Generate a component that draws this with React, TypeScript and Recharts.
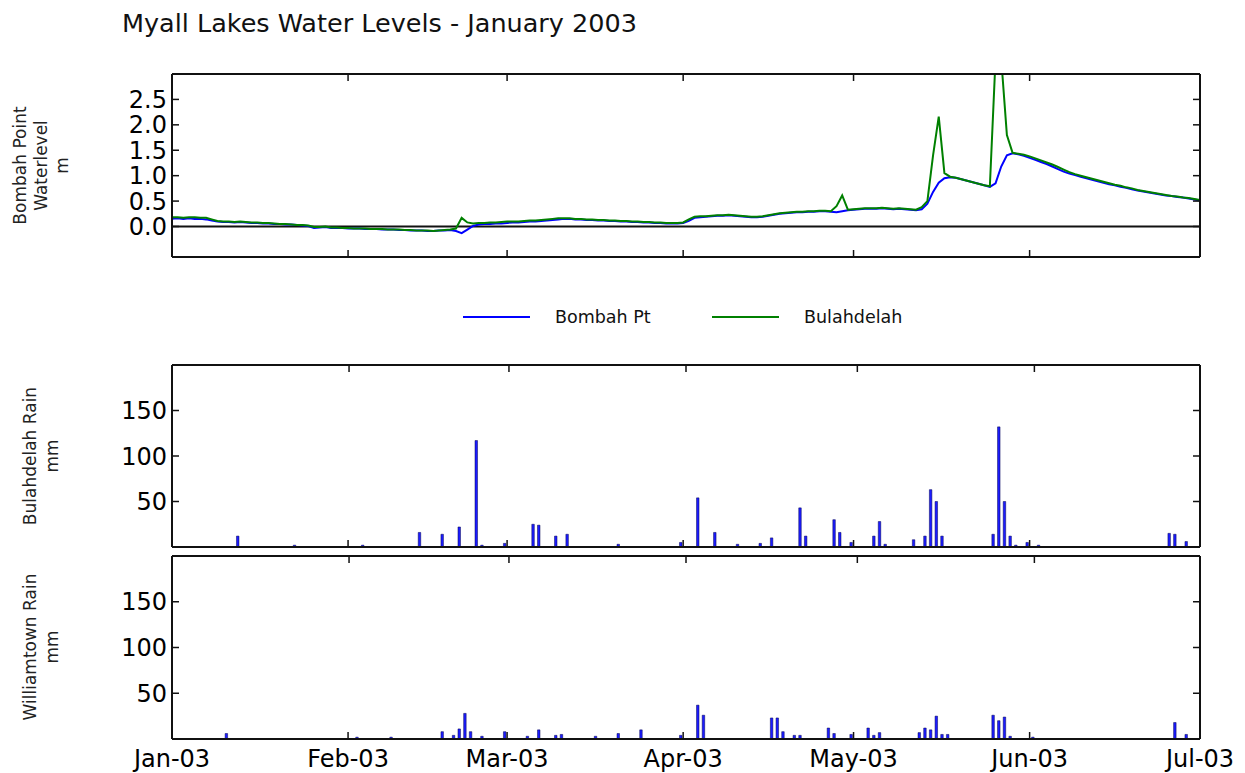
import { LineChart, Line, BarChart, Bar, XAxis, YAxis, ReferenceLine } from "recharts";

// x axis is "days since 1 Jan 2003"
const monthStarts = [0, 31, 59, 90, 120, 151, 181];
const monthLabels = ["Jan-03", "Feb-03", "Mar-03", "Apr-03", "May-03", "Jun-03", "Jul-03"];
const levelTicks = [0, 0.5, 1, 1.5, 2, 2.5];
const rainTicks = [50, 100, 150];

const bombahName = "Bombah Pt";
const bulahName = "Bulahdelah";

// daily water level (m), 1 Jan .. 1 Jul
const bombahLevel = [
  0.15, 0.16, 0.15, 0.16, 0.15, 0.15, 0.14, 0.12, 0.1, 0.09,
  0.09, 0.08, 0.09, 0.08, 0.07, 0.07, 0.06, 0.06, 0.05, 0.05,
  0.04, 0.04, 0.03, 0.02, 0.01, -0.03, -0.02, -0.01, -0.03, -0.03,
  -0.03, -0.04, -0.04, -0.04, -0.05, -0.05, -0.05, -0.06, -0.06, -0.06,
  -0.07, -0.07, -0.08, -0.08, -0.08, -0.09, -0.09, -0.08, -0.08, -0.07,
  -0.09, -0.13, -0.06, 0.01, 0.04, 0.05, 0.05, 0.06, 0.06, 0.07,
  0.08, 0.08, 0.09, 0.1, 0.1, 0.11, 0.12, 0.13, 0.14, 0.15,
  0.15, 0.14, 0.14, 0.13, 0.13, 0.12, 0.12, 0.11, 0.11, 0.1,
  0.1, 0.09, 0.09, 0.08, 0.08, 0.07, 0.07, 0.06, 0.06, 0.06,
  0.07, 0.11, 0.17, 0.18, 0.19, 0.2, 0.21, 0.21, 0.22, 0.21,
  0.2, 0.19, 0.18, 0.18, 0.19, 0.21, 0.23, 0.25, 0.26, 0.27,
  0.28, 0.28, 0.29, 0.29, 0.3, 0.3, 0.29, 0.28, 0.3, 0.32,
  0.33, 0.34, 0.35, 0.35, 0.35, 0.36, 0.35, 0.34, 0.35, 0.34,
  0.33, 0.32, 0.34, 0.45, 0.68, 0.86, 0.95, 0.97, 0.96, 0.93,
  0.9, 0.87, 0.84, 0.81, 0.78, 0.85, 1.18, 1.4, 1.44, 1.42,
  1.39, 1.35, 1.31, 1.27, 1.23, 1.18, 1.13, 1.08, 1.04, 1.01,
  0.98, 0.95, 0.92, 0.89, 0.86, 0.83, 0.81, 0.78, 0.76, 0.73,
  0.71, 0.69, 0.67, 0.65, 0.63, 0.61, 0.6, 0.58, 0.57, 0.55,
  0.53, 0.51,
];

const bulahLevel = [
  0.18, 0.18, 0.17, 0.18, 0.18, 0.17, 0.17, 0.14, 0.11, 0.1,
  0.1, 0.09, 0.1, 0.09, 0.08, 0.08, 0.07, 0.07, 0.06, 0.05,
  0.05, 0.04, 0.03, 0.03, 0.02, -0.01, -0.01, 0.0, -0.02, -0.02,
  -0.03, -0.03, -0.04, -0.04, -0.04, -0.05, -0.05, -0.05, -0.06, -0.06,
  -0.06, -0.07, -0.07, -0.08, -0.08, -0.08, -0.09, -0.08, -0.07, -0.06,
  -0.04, 0.17, 0.08, 0.06, 0.07, 0.07, 0.08, 0.08, 0.09, 0.1,
  0.1, 0.1, 0.11, 0.12, 0.12, 0.13, 0.14, 0.15, 0.16, 0.16,
  0.16, 0.15, 0.15, 0.14, 0.14, 0.13, 0.13, 0.12, 0.12, 0.11,
  0.11, 0.1, 0.1, 0.09, 0.09, 0.08, 0.08, 0.07, 0.07, 0.07,
  0.08, 0.14, 0.19, 0.2, 0.2, 0.21, 0.22, 0.22, 0.23, 0.22,
  0.21, 0.2, 0.19, 0.19, 0.2, 0.22, 0.24, 0.26, 0.27, 0.28,
  0.29, 0.29, 0.3, 0.3, 0.31, 0.31, 0.3, 0.4, 0.61, 0.33,
  0.34, 0.35, 0.36, 0.36, 0.36, 0.37, 0.36, 0.35, 0.36, 0.35,
  0.34, 0.33, 0.38, 0.5, 1.4, 2.16, 1.05, 0.98, 0.96, 0.93,
  0.9, 0.87, 0.84, 0.81, 0.79, 3.3, 3.3, 1.8, 1.45, 1.43,
  1.41, 1.38, 1.34, 1.3, 1.26, 1.22, 1.17, 1.12, 1.07, 1.03,
  1.0, 0.97, 0.94, 0.91, 0.88, 0.85, 0.82, 0.8, 0.77, 0.75,
  0.72, 0.7, 0.68, 0.66, 0.64, 0.62, 0.6, 0.59, 0.57, 0.56,
  0.54, 0.52,
];

// daily rainfall (mm), only the wet days
const bulahRainDays = [11, 21, 33, 43, 47, 50, 53, 54, 58, 63, 64, 67, 69, 78, 89, 92, 95, 99, 103, 105, 110, 111, 116, 117, 119, 123, 124, 125, 130, 132, 133, 134, 135, 144, 145, 146, 147, 148, 150, 152, 175, 176, 178];
const bulahRainMm = [12, 2, 2, 16, 14, 22, 117, 2, 4, 25, 24, 12, 14, 3, 5, 54, 16, 3, 4, 10, 43, 12, 30, 16, 5, 12, 28, 3, 8, 12, 63, 50, 12, 14, 132, 50, 12, 2, 5, 2, 15, 14, 6];

const williamRainDays = [9, 32, 38, 47, 49, 50, 51, 52, 54, 58, 62, 64, 67, 68, 74, 78, 82, 89, 92, 93, 105, 106, 107, 109, 110, 115, 116, 119, 122, 123, 124, 131, 132, 133, 134, 135, 136, 144, 145, 146, 147, 151, 176, 178];
const williamRainMm = [6, 2, 2, 8, 4, 11, 28, 8, 3, 8, 3, 10, 4, 5, 3, 6, 10, 4, 37, 26, 23, 23, 8, 4, 4, 12, 6, 5, 12, 4, 7, 7, 12, 10, 25, 5, 5, 26, 20, 24, 3, 2, 18, 5];

const levelData = bombahLevel.map((v, i) => ({ day: i, bombah: v, bulah: bulahLevel[i] }));

const rainOn = (days: number[], mm: number[], d: number) => {
  const i = days.indexOf(d);
  return i < 0 ? null : mm[i];
};

// one row per day; a day's total is centred on that day
const rainData = Array.from({ length: 181 }, (_, d) => ({
  day: d + 0.5,
  bulah: rainOn(bulahRainDays, bulahRainMm, d),
  william: rainOn(williamRainDays, williamRainMm, d),
}));

const W = 1245;
const FONT = "DejaVu Sans, Verdana, sans-serif";
const frame = { stroke: "#111", strokeWidth: 2 };
const tickStroke = { stroke: "#111", strokeWidth: 1.5 };
const tickFont = { fontSize: 24, fill: "#000", fontFamily: FONT };
const monthName = (v: number) => monthLabels[monthStarts.indexOf(v)] ?? "";
const blank = () => "";
// the first and last month fall on the frame itself
const innerMonths = monthStarts.slice(1, -1);

const VLabel = ({ lines, cx, cy, lh }: { lines: string[]; cx: number; cy: number; lh: number }) => (
  <div
    style={{
      position: "absolute",
      left: cx - 150,
      top: cy - (lines.length * lh) / 2,
      width: 300,
      height: lines.length * lh,
      lineHeight: `${lh}px`,
      fontSize: 17,
      textAlign: "center",
      color: "#222",
      transform: "rotate(-90deg)",
      transformOrigin: "150px 50%",
    }}
  >
    {lines.map((t) => (
      <div key={t}>{t}</div>
    ))}
  </div>
);

// month ticks on top and bottom, value ticks left and right, all pointing inwards.
// unlabelled sides keep their tick marks by formatting the labels to ""
const frameAxes = (yDomain: number[], yTicks: number[], showMonths: boolean, yFormat: (v: number) => string, bottomH: number) => [
  <XAxis
    key="xb"
    type="number"
    dataKey="day"
    domain={[0, 181]}
    ticks={showMonths ? monthStarts : innerMonths}
    allowDataOverflow
    interval={0}
    tick={tickFont}
    tickFormatter={showMonths ? monthName : blank}
    tickSize={-7}
    tickMargin={18}
    height={bottomH}
    axisLine={frame}
    tickLine={tickStroke}
  />,
  <XAxis
    key="xt"
    xAxisId="top"
    orientation="top"
    type="number"
    domain={[0, 181]}
    ticks={innerMonths}
    allowDataOverflow
    interval={0}
    tickFormatter={blank}
    tickSize={-7}
    height={10}
    axisLine={frame}
    tickLine={tickStroke}
  />,
  <YAxis
    key="yl"
    type="number"
    domain={yDomain}
    ticks={yTicks}
    allowDataOverflow
    interval={0}
    tick={tickFont}
    tickFormatter={yFormat}
    tickSize={-7}
    tickMargin={12}
    width={60}
    axisLine={frame}
    tickLine={tickStroke}
  />,
  <YAxis
    key="yr"
    yAxisId="right"
    orientation="right"
    type="number"
    domain={yDomain}
    ticks={yTicks}
    allowDataOverflow
    interval={0}
    tickFormatter={blank}
    tickSize={-7}
    width={10}
    axisLine={frame}
    tickLine={tickStroke}
  />,
];

const RainPanel = ({ dataKey, top, height, marginTop, showMonths }: { dataKey: string; top: number; height: number; marginTop: number; showMonths: boolean }) => (
  <div style={{ position: "absolute", left: 0, top }}>
    <BarChart width={W} height={height} data={rainData} margin={{ top: marginTop, right: 35, bottom: 0, left: 112 }}>
      {frameAxes([0, 200], rainTicks, showMonths, (v) => String(v), showMonths ? 34 : 33)}
      <Bar dataKey={dataKey} fill="#1c1cff" stroke="#000050" strokeWidth={0.5} barSize={2.5} isAnimationActive={false} />
    </BarChart>
  </div>
);

const legendItems = [
  { name: bombahName, color: "#0000ff" },
  { name: bulahName, color: "#008000" },
];

export default function App() {
  return (
    <div style={{ position: "absolute", left: 0, top: 0, width: W, height: 773, background: "#fff", fontFamily: FONT, overflow: "hidden" }}>
      <div style={{ position: "absolute", left: 122, top: 8, fontSize: 25.5, color: "#111" }}>
        Myall Lakes Water Levels - January 2003
      </div>

      <VLabel lines={["Bombah Point", "Waterlevel", "m"]} cx={41} cy={165} lh={21} />
      <VLabel lines={["Bulahdelah Rain", "mm"]} cx={41} cy={456} lh={22} />
      <VLabel lines={["Williamtown Rain", "mm"]} cx={41} cy={647} lh={22} />

      <div style={{ position: "absolute", left: 0, top: 0 }}>
        <LineChart width={W} height={290} data={levelData} margin={{ top: 64, right: 35, bottom: 0, left: 112 }}>
          {frameAxes([-0.6, 3], levelTicks, false, (v) => v.toFixed(1), 33)}
          <ReferenceLine y={0} stroke="#111" strokeWidth={2} />
          <Line dataKey="bombah" name={bombahName} stroke="#0000ff" strokeWidth={2} dot={false} isAnimationActive={false} />
          <Line dataKey="bulah" name={bulahName} stroke="#008000" strokeWidth={2} dot={false} isAnimationActive={false} />
        </LineChart>
      </div>

      <div style={{ position: "absolute", left: 463, top: 307, display: "flex", fontSize: 17.5, color: "#111" }}>
        {legendItems.map((it) => (
          <div key={it.name} style={{ display: "flex", alignItems: "center", width: 249 }}>
            <svg width={67} height={4} style={{ marginRight: 25 }}>
              <line x1={0} y1={2} x2={67} y2={2} stroke={it.color} strokeWidth={2} />
            </svg>
            <span>{it.name}</span>
          </div>
        ))}
      </div>

      <RainPanel dataKey="bulah" top={340} height={240} marginTop={15} showMonths={false} />
      <RainPanel dataKey="william" top={540} height={233} marginTop={6} showMonths />
    </div>
  );
}
